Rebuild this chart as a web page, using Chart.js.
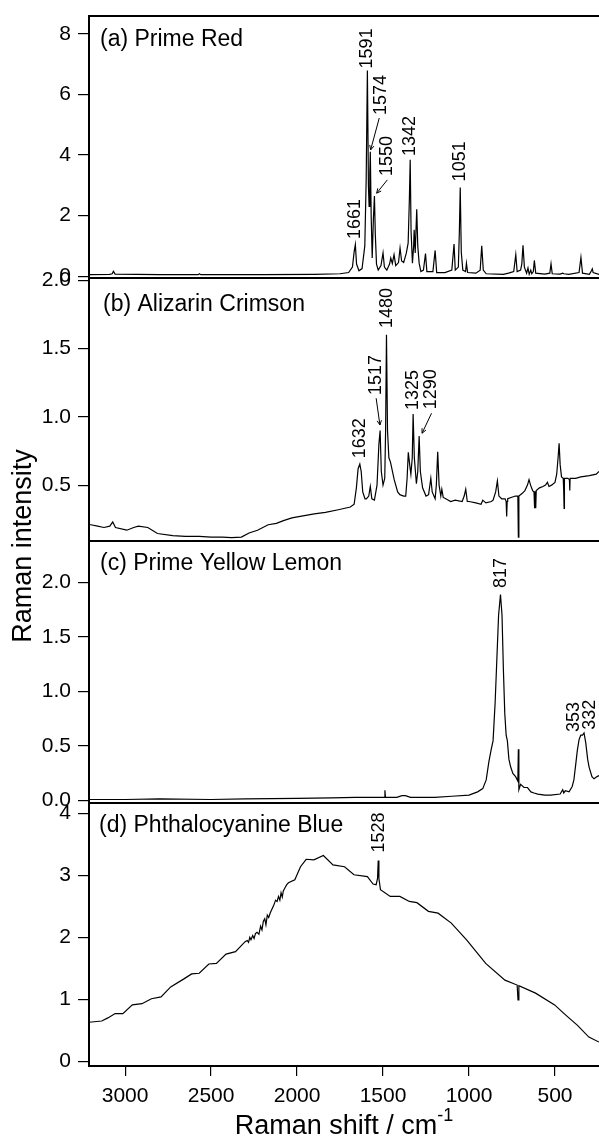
<!DOCTYPE html>
<html>
<head>
<meta charset="utf-8">
<script src="https://cdn.jsdelivr.net/npm/chart.js@4.4.0/dist/chart.umd.min.js"></script>
<style>
  body { margin: 0; background: #fff; width: 599px; height: 1138px; overflow: hidden; position: relative; font-family: 'Liberation Sans', Arial, sans-serif; color: #000; }
  canvas { position: absolute; left: 0; }
  .titulo-x { position: absolute; left: 89px; width: 510px; top: 1112px; text-align: center; font-size: 27px; line-height: 27px; white-space: nowrap; }
  .titulo-x span { font-size: 18px; line-height: 0; position: relative; top: -13px; }
  .titulo-y { position: absolute; left: -128px; top: 531px; width: 300px; height: 30px; line-height: 30px; text-align: center; font-size: 27px; transform: rotate(-90deg); white-space: nowrap; }
</style>
</head>
<body>
<canvas id="painel-a"></canvas>
<canvas id="painel-b"></canvas>
<canvas id="painel-c"></canvas>
<canvas id="painel-d"></canvas>
<div class="titulo-y">Raman intensity</div>
<div class="titulo-x">Raman shift / cm<span>-1</span></div>
<script>
Chart.defaults.font.family = "'Liberation Sans', Arial, sans-serif";
Chart.defaults.color = '#000';

const limiteEsquerdo = 3210;
const limiteDireito = 244;
const ticksDeslocamento = [500, 1000, 1500, 2000, 2500, 3000];

// (a) Prime Red
const deslocamentoA = [3210, 3090, 3075, 3068, 3058, 2800, 2575, 2568, 2560, 2200, 1900, 1750, 1700, 1678, 1668, 1661, 1654, 1640, 1622, 1606, 1598, 1591, 1585, 1581, 1577, 1574, 1569, 1563, 1556, 1550, 1545, 1538, 1528, 1512, 1500, 1492, 1478, 1462, 1455, 1446, 1436, 1426, 1410, 1401, 1392, 1380, 1365, 1354, 1347, 1342, 1337, 1329, 1322, 1319, 1313, 1304, 1298, 1290, 1280, 1265, 1253, 1245, 1210, 1197, 1188, 1140, 1100, 1087, 1080, 1062, 1056, 1051, 1045, 1036, 1020, 1015, 1008, 960, 935, 926, 917, 900, 800, 770, 740, 728, 720, 700, 693, 686, 678, 665, 657, 650, 641, 635, 626, 620, 612, 560, 530, 523, 516, 470, 455, 448, 420, 360, 349, 340, 300, 288, 283, 278, 244];
const intensidadeA = [0.05, 0.06, 0.08, 0.16, 0.07, 0.05, 0.05, 0.08, 0.05, 0.05, 0.06, 0.08, 0.12, 0.3, 0.8, 1.04, 0.4, 0.18, 0.25, 1.0, 3.2, 6.79, 3.0, 2.3, 3.4, 4.11, 2.0, 0.6, 1.9, 2.65, 1.4, 0.4, 0.2, 0.35, 0.77, 0.3, 0.2, 0.4, 0.6, 0.42, 0.71, 0.35, 0.45, 0.93, 0.5, 0.45, 0.75, 1.09, 2.5, 3.84, 1.5, 0.43, 1.0, 1.53, 0.77, 2.21, 1.0, 0.43, 0.15, 0.2, 0.75, 0.15, 0.15, 0.85, 0.12, 0.12, 0.2, 1.06, 0.2, 0.3, 1.5, 2.93, 0.8, 0.2, 0.15, 0.43, 0.12, 0.1, 0.2, 1.0, 0.2, 0.08, 0.06, 0.1, 0.15, 0.71, 0.15, 0.2, 0.4, 1.02, 0.3, 0.1, 0.27, 0.06, 0.2, 0.08, 0.15, 0.52, 0.1, 0.07, 0.1, 0.41, 0.08, 0.07, 0.1, 0.08, 0.06, 0.12, 0.62, 0.1, 0.06, 0.18, 0.24, 0.12, 0.06];
const ticksA = [0, 2, 4, 6, 8];
const picosA = ['1661', '1591', '1574', '1550', '1342', '1051'];

// (b) Alizarin Crimson
const deslocamentoB = [3210, 3199, 3160, 3123, 3089, 3072, 3056, 2990, 2950, 2923, 2868, 2812, 2723, 2650, 2568, 2500, 2435, 2380, 2324, 2279, 2230, 2168, 2120, 2079, 2030, 1990, 1900, 1835, 1760, 1690, 1668, 1655, 1645, 1635, 1627, 1618, 1605, 1597, 1583, 1574, 1565, 1550, 1535, 1524, 1517, 1510, 1500, 1490, 1485, 1480, 1474, 1466, 1457, 1435, 1415, 1402, 1380, 1368, 1360, 1353, 1345, 1338, 1330, 1325, 1318, 1306, 1298, 1290, 1283, 1270, 1250, 1235, 1222, 1214, 1197, 1190, 1182, 1174, 1164, 1158, 1150, 1135, 1120, 1107, 1080, 1040, 1028, 1019, 1010, 1000, 960, 930, 920, 902, 870, 860, 845, 835, 826, 810, 790, 784, 781, 778, 775, 730, 716, 713, 710, 690, 675, 660, 651, 642, 630, 622, 620, 617, 614, 612, 609, 590, 570, 555, 544, 535, 520, 500, 490, 482, 476, 470, 462, 452, 449, 447, 445, 425, 416, 414, 412, 380, 350, 300, 260, 244];
const intensidadeB = [0.21, 0.21, 0.2, 0.19, 0.2, 0.23, 0.19, 0.17, 0.19, 0.2, 0.19, 0.146, 0.13, 0.125, 0.125, 0.12, 0.12, 0.115, 0.12, 0.15, 0.17, 0.21, 0.22, 0.24, 0.26, 0.27, 0.29, 0.3, 0.32, 0.34, 0.36, 0.48, 0.62, 0.654, 0.6, 0.45, 0.4, 0.4, 0.42, 0.49, 0.4, 0.39, 0.5, 0.8, 0.9, 0.6, 0.5, 0.55, 0.9, 1.6, 0.9, 0.7, 0.67, 0.54, 0.45, 0.43, 0.42, 0.42, 0.55, 0.74, 0.65, 0.58, 0.7, 1.02, 0.7, 0.51, 0.6, 0.86, 0.6, 0.48, 0.42, 0.43, 0.55, 0.45, 0.4, 0.5, 0.744, 0.5, 0.42, 0.47, 0.41, 0.4, 0.39, 0.38, 0.39, 0.38, 0.42, 0.47, 0.38, 0.38, 0.37, 0.36, 0.39, 0.37, 0.38, 0.39, 0.45, 0.53, 0.42, 0.4, 0.4, 0.38, 0.27, 0.38, 0.4, 0.42, 0.42, 0.12, 0.42, 0.44, 0.46, 0.5, 0.54, 0.5, 0.46, 0.45, 0.33, 0.45, 0.45, 0.33, 0.46, 0.48, 0.49, 0.5, 0.52, 0.49, 0.5, 0.52, 0.58, 0.7, 0.806, 0.65, 0.56, 0.55, 0.45, 0.33, 0.55, 0.55, 0.54, 0.46, 0.55, 0.55, 0.56, 0.57, 0.58, 0.6];
const ticksB = [0.5, 1.0, 1.5, 2.0];
const picosB = ['1632', '1517', '1480', '1325', '1290'];

// (c) Prime Yellow Lemon
const deslocamentoC = [3210, 3000, 2800, 2500, 2300, 2000, 1800, 1660, 1500, 1492, 1489, 1486, 1420, 1390, 1370, 1340, 1200, 1100, 1000, 950, 920, 900, 885, 872, 860, 848, 838, 828, 817, 808, 800, 792, 784, 777, 768, 758, 745, 729, 716, 713, 710, 700, 680, 660, 640, 622, 600, 560, 525, 470, 455, 449, 440, 418, 400, 390, 378, 370, 360, 350, 340, 331, 321, 310, 302, 285, 273, 255, 244];
const intensidadeC = [0.01, 0.01, 0.015, 0.01, 0.015, 0.02, 0.025, 0.03, 0.03, 0.03, 0.095, 0.03, 0.03, 0.045, 0.045, 0.03, 0.03, 0.04, 0.05, 0.08, 0.11, 0.19, 0.35, 0.46, 0.55, 0.9, 1.3, 1.7, 1.89, 1.7, 1.2, 0.8, 0.6, 0.55, 0.38, 0.31, 0.25, 0.22, 0.18, 0.47, 0.1, 0.15, 0.12, 0.12, 0.08, 0.07, 0.06, 0.05, 0.05, 0.06, 0.1, 0.07, 0.09, 0.08, 0.13, 0.19, 0.35, 0.46, 0.56, 0.6, 0.6, 0.62, 0.53, 0.38, 0.31, 0.22, 0.2, 0.22, 0.23];
const ticksC = [0.0, 0.5, 1.0, 1.5, 2.0];
const picosC = ['817', '353', '332'];

// (d) Phthalocyanine Blue
const deslocamentoD = [3210, 3136, 3100, 3058, 3013, 2958, 2902, 2847, 2791, 2735, 2658, 2613, 2569, 2513, 2469, 2413, 2358, 2302, 2290, 2282, 2275, 2268, 2258, 2250, 2242, 2233, 2222, 2212, 2204, 2196, 2188, 2181, 2173, 2165, 2155, 2147, 2135, 2125, 2116, 2108, 2100, 2093, 2086, 2080, 2070, 2060, 2050, 2013, 1980, 1947, 1902, 1847, 1791, 1724, 1669, 1591, 1558, 1540, 1532, 1528, 1524, 1515, 1458, 1402, 1347, 1303, 1236, 1180, 1103, 1014, 903, 791, 720, 715, 710, 613, 502, 447, 369, 303, 244];
const intensidadeD = [0.63, 0.65, 0.7, 0.77, 0.77, 0.91, 0.93, 1.01, 1.04, 1.2, 1.33, 1.41, 1.42, 1.57, 1.58, 1.73, 1.77, 1.93, 1.95, 1.92, 2.0, 1.96, 2.03, 1.98, 2.06, 2.08, 2.05, 2.18, 2.12, 2.26, 2.3, 2.2, 2.36, 2.32, 2.4, 2.45, 2.52, 2.6, 2.58, 2.66, 2.6, 2.72, 2.65, 2.75, 2.8, 2.85, 2.88, 2.93, 3.14, 3.26, 3.25, 3.32, 3.17, 3.14, 3.01, 2.98, 2.86, 2.85, 2.95, 3.24, 2.95, 2.77, 2.66, 2.66, 2.58, 2.56, 2.42, 2.39, 2.23, 1.96, 1.58, 1.31, 1.23, 0.99, 1.22, 1.1, 0.91, 0.77, 0.58, 0.39, 0.31];
const ticksD = [0, 1, 2, 3, 4];
const picosD = ['1528'];

const paineis = [
  {
    canvas: 'painel-a', topo: 16, base: 278, nome: '(a) Prime Red', nomeX: 11, nomeY: 30,
    deslocamento: deslocamentoA, intensidade: intensidadeA,
    min: -0.06, max: 8.59, ticks: ticksA, casas: 0, picos: picosA,
    rotulos: [[1663, 1.23], [1592, 6.86], [1512, 5.32, 1522, 5.22, 1572, 4.17], [1475, 3.31, 1475, 3.18, 1537, 2.74], [1343, 3.97], [1052, 3.13]],
  },
  {
    canvas: 'painel-b', topo: 278, base: 541, nome: '(b) Alizarin Crimson', nomeX: 14, nomeY: 33,
    deslocamento: deslocamentoB, intensidade: intensidadeB,
    min: 0.091, max: 2.016, ticks: ticksB, casas: 1, picos: picosB,
    rotulos: [[1635, 0.696], [1540, 1.16, 1540, 1.136, 1518, 0.94], [1479, 1.65], [1327, 1.05], [1218, 1.055, 1218, 1.026, 1273, 0.88]],
  },
  {
    canvas: 'painel-c', topo: 541, base: 803, nome: '(c) Prime Yellow Lemon', nomeX: 11, nomeY: 29,
    deslocamento: deslocamentoC, intensidade: intensidadeC,
    min: -0.022, max: 2.381, ticks: ticksC, casas: 1, picos: picosC,
    rotulos: [[815, 1.95], [391, 0.63], [296, 0.65]],
  },
  {
    canvas: 'painel-d', topo: 803, base: 1066, nome: '(d) Phthalocyanine Blue', nomeX: 10, nomeY: 29,
    deslocamento: deslocamentoD, intensidade: intensidadeD,
    min: -0.076, max: 4.168, ticks: ticksD, casas: 0, picos: picosD,
    rotulos: [[1526, 3.37]],
    eixoX: true,
  },
];

const folga = 24;
const alturaEixoX = 72;

paineis.forEach((painel) => carregarPainel(painel));

function desenharSeta(ctx, x1, y1, x2, y2) {
  const ang = Math.atan2(y2 - y1, x2 - x1);
  ctx.beginPath();
  ctx.moveTo(x1, y1);
  ctx.lineTo(x2, y2);
  ctx.moveTo(x2 - 5 * Math.cos(ang - 0.45), y2 - 5 * Math.sin(ang - 0.45));
  ctx.lineTo(x2, y2);
  ctx.lineTo(x2 - 5 * Math.cos(ang + 0.45), y2 - 5 * Math.sin(ang + 0.45));
  ctx.stroke();
}

function carregarPainel(painel) {
  const canvas = document.getElementById(painel.canvas);
  const topoCanvas = painel.topo - folga;
  const alturaCanvas = painel.eixoX
    ? 1138 - topoCanvas
    : painel.base - painel.topo + 2 * folga;
  canvas.width = 599;
  canvas.height = alturaCanvas;
  canvas.style.top = topoCanvas + 'px';
  canvas.style.width = '599px';
  canvas.style.height = alturaCanvas + 'px';

  const pontos = painel.deslocamento.map((x, i) => ({ x, y: painel.intensidade[i] }));

  const moldura = {
    id: 'moldura',
    afterDraw(chart) {
      const { ctx, chartArea, scales } = chart;
      const { left, top, bottom } = chartArea;
      const right = chartArea.right + 4;
      ctx.save();

      // peak labels and arrows
      ctx.fillStyle = '#000';
      ctx.strokeStyle = '#000';
      ctx.lineWidth = 1;
      ctx.font = "18px 'Liberation Sans', Arial, sans-serif";
      painel.rotulos.forEach((r, i) => {
        const x = scales.x.getPixelForValue(r[0]);
        const y = scales.y.getPixelForValue(r[1]);
        ctx.save();
        ctx.translate(x, y);
        ctx.rotate(-Math.PI / 2);
        ctx.textAlign = 'left';
        ctx.textBaseline = 'middle';
        ctx.fillText(painel.picos[i], 0, 0);
        ctx.restore();
        if (r.length > 2) {
          desenharSeta(
            ctx,
            scales.x.getPixelForValue(r[2]),
            scales.y.getPixelForValue(r[3]),
            scales.x.getPixelForValue(r[4]),
            scales.y.getPixelForValue(r[5])
          );
        }
      });

      // panel name
      ctx.font = "23px 'Liberation Sans', Arial, sans-serif";
      ctx.textAlign = 'left';
      ctx.textBaseline = 'alphabetic';
      ctx.fillText(painel.nome, left + painel.nomeX, top + painel.nomeY);

      // frame
      ctx.lineWidth = 2;
      ctx.beginPath();
      ctx.moveTo(right, top);
      ctx.lineTo(left, top);
      ctx.lineTo(left, bottom);
      ctx.lineTo(right, bottom);
      ctx.stroke();
      ctx.restore();
    },
  };

  new Chart(canvas.getContext('2d'), {
    type: 'line',
    data: {
      datasets: [
        {
          data: pontos,
          borderColor: '#000',
          borderWidth: 1.2,
          pointRadius: 0,
          tension: 0,
          fill: false,
        },
      ],
    },
    options: {
      responsive: false,
      animation: false,
      devicePixelRatio: 1,
      layout: {
        padding: { top: folga, bottom: painel.eixoX ? 0 : folga, left: 0, right: 0 },
      },
      plugins: {
        legend: { display: false },
        tooltip: { enabled: false },
      },
      scales: {
        x: {
          type: 'linear',
          reverse: true,
          min: limiteDireito,
          max: limiteEsquerdo,
          display: !!painel.eixoX,
          afterBuildTicks: (s) => {
            s.ticks = ticksDeslocamento.map((v) => ({ value: v }));
          },
          afterFit: (s) => {
            if (painel.eixoX) {
              s.height = alturaEixoX;
            }
          },
          grid: {
            drawOnChartArea: false,
            drawTicks: true,
            tickLength: 10,
            color: '#000',
            lineWidth: 1.2,
          },
          border: { display: false },
          ticks: {
            font: { size: 21 },
            color: '#000',
            padding: 8,
            maxRotation: 0,
            autoSkip: false,
            callback: (v) => String(v),
          },
        },
        y: {
          type: 'linear',
          min: painel.min,
          max: painel.max,
          afterBuildTicks: (s) => {
            s.ticks = painel.ticks.map((v) => ({ value: v }));
          },
          afterFit: (s) => {
            s.width = 89;
          },
          grid: {
            drawOnChartArea: false,
            drawTicks: true,
            tickLength: 11,
            color: '#000',
            lineWidth: 1.2,
          },
          border: { display: false },
          ticks: {
            font: { size: 21 },
            color: '#000',
            padding: 7,
            autoSkip: false,
            callback: (v) => Number(v).toFixed(painel.casas),
          },
        },
      },
    },
    plugins: [moldura],
  });
}
</script>
</body>
</html>
